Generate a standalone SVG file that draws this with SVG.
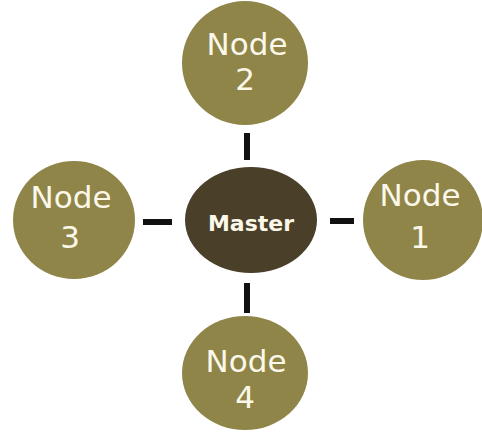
<svg xmlns="http://www.w3.org/2000/svg" width="482" height="436" viewBox="0 0 482 436">
<style>
.node{fill:#8f8549;}
.master{fill:#4a3f29;}
.t{font-family:"DejaVu Sans",sans-serif;font-size:31px;fill:#fbf8ea;text-anchor:middle;}
.mt{font-family:"DejaVu Sans",sans-serif;font-weight:bold;font-size:22px;fill:#fbf8ea;text-anchor:middle;}
.c{stroke:#111;stroke-width:6;}
</style>
<rect width="482" height="436" fill="#fff"/>
<g id="connectors">
<line class="c" x1="247" y1="133" x2="247" y2="160"/>
<line class="c" x1="247" y1="283" x2="247" y2="313"/>
<line class="c" x1="143" y1="222" x2="172" y2="222"/>
<line class="c" x1="330" y1="221" x2="354" y2="221"/>
</g>
<g id="master">
<ellipse class="master" cx="251" cy="220" rx="66" ry="53"/>
<text class="mt" x="251" y="231">Master</text>
</g>
<g id="node2">
<ellipse class="node" cx="245" cy="63" rx="63" ry="62"/>
<text class="t" x="247" y="55">Node</text>
<text class="t" x="245" y="90">2</text>
</g>
<g id="node3">
<ellipse class="node" cx="74" cy="220" rx="61" ry="59"/>
<text class="t" x="71" y="208">Node</text>
<text class="t" x="70" y="248">3</text>
</g>
<g id="node1">
<ellipse class="node" cx="423" cy="220" rx="60" ry="60"/>
<text class="t" x="420" y="206">Node</text>
<text class="t" x="420" y="248">1</text>
</g>
<g id="node4">
<ellipse class="node" cx="245" cy="373" rx="63" ry="57"/>
<text class="t" x="246" y="372">Node</text>
<text class="t" x="245" y="408">4</text>
</g>
</svg>
